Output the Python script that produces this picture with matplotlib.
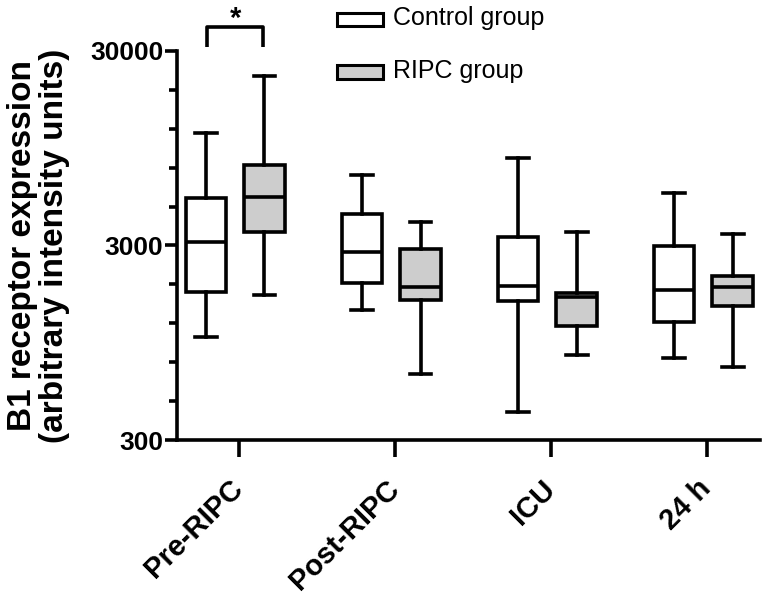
import numpy as np
import matplotlib
matplotlib.use("Agg")
import matplotlib.pyplot as plt
from matplotlib.patches import Rectangle
from matplotlib.transforms import ScaledTranslation

plt.rcParams['font.family'] = ['Liberation Sans', 'DejaVu Sans']

# time points
categories = ["Pre-RIPC", "Post-RIPC", "ICU", "24 h"]

# box stats: whisker low, q1, median, q3, whisker high
control_low = [1020, 1398, 418, 795]
control_q1 = [1724, 1931, 1555, 1208]
control_med = [3139, 2768, 1865, 1771]
control_q3 = [5283, 4341, 3330, 2983]
control_high = [11330, 6913, 8484, 5565]

ripc_low = [1670, 655, 820, 709]
ripc_q1 = [3533, 1574, 1157, 1471]
ripc_med = [5346, 1841, 1624, 1841]
ripc_q3 = [7783, 2879, 1704, 2091]
ripc_high = [22320, 3978, 3533, 3438]

def make_stats(low, q1, med, q3, high):
    return [dict(whislo=a, q1=b, med=c, q3=d, whishi=e, fliers=[])
            for a, b, c, d, e in zip(low, q1, med, q3, high)]

fig = plt.figure(figsize=(7.64, 5.95), dpi=100)
ax = fig.add_axes([0.2317, 0.2605, 0.7631, 0.6538])

x = np.arange(1, len(categories) + 1)
lw = 2.6
common = dict(widths=0.26, showfliers=False, patch_artist=True,
              whiskerprops=dict(lw=lw, color='black'),
              capprops=dict(lw=lw, color='black'),
              medianprops=dict(lw=lw, color='black'),
              capwidths=0.14)

ax.bxp(make_stats(control_low, control_q1, control_med, control_q3, control_high),
       positions=x - 0.21, boxprops=dict(lw=lw, edgecolor='black', facecolor='white'),
       **common)
ax.bxp(make_stats(ripc_low, ripc_q1, ripc_med, ripc_q3, ripc_high),
       positions=x + 0.165, boxprops=dict(lw=lw, edgecolor='black', facecolor='#cdcdcd'),
       **common)

ax.set_yscale('log')
ax.set_ylim(300, 30000)
ax.set_xlim(0.605, 4.34)
ax.set_yticks([300, 3000, 30000])
ax.set_yticklabels(['300', '3000', '30000'])
ax.set_yticks([300 * 10 ** (k / 5) for k in range(1, 10) if k != 5], minor=True)
ax.yaxis.set_minor_formatter(matplotlib.ticker.NullFormatter())
ax.set_xticks(x)
ax.set_xticklabels(categories, rotation=45, ha='right', va='center',
                   rotation_mode='anchor', fontsize=21, fontweight='bold')
for lab in ax.get_xticklabels():
    lab.set_transform(lab.get_transform() + ScaledTranslation(0.08, 0, fig.dpi_scale_trans))
for lab in ax.get_yticklabels():
    lab.set_fontsize(19)
    lab.set_fontweight('bold')

for s in ['top', 'right']:
    ax.spines[s].set_visible(False)
for s in ['left', 'bottom']:
    ax.spines[s].set_linewidth(2.6)
ax.tick_params(axis='y', which='major', length=9, width=2.6, pad=1)
ax.tick_params(axis='y', which='minor', length=6, width=2.6)
ax.tick_params(axis='x', which='major', length=12, width=2.6, pad=20)

ax.set_ylabel("B1 receptor expression\n(arbitrary intensity units)",
              fontsize=24, fontweight='bold', labelpad=14, linespacing=1.05)

# legend drawn by hand
legend_items = [("Control group", 'white'), ("RIPC group", '#cdcdcd')]
for i, (name, fc) in enumerate(legend_items):
    yy = 0.967 - i * 0.088
    fig.patches.append(Rectangle((0.441, yy - 0.011), 0.06, 0.022, transform=fig.transFigure,
                                 facecolor=fc, edgecolor='black', lw=2.2))
    fig.text(0.514, yy + 0.002, name, fontsize=18, va='center', ha='left')

# significance bracket
bx0, bx1 = 1 - 0.2, 1 + 0.155
ax.plot([bx0, bx0, bx1, bx1], [31400, 39800, 39800, 31400], color='black', lw=2.6,
        clip_on=False, solid_capstyle='butt')
ax.text((bx0 + bx1) / 2, 39800, "*", ha='center', va='baseline', fontsize=21,
        fontweight='bold')

fig.savefig("out.png", dpi=100)
